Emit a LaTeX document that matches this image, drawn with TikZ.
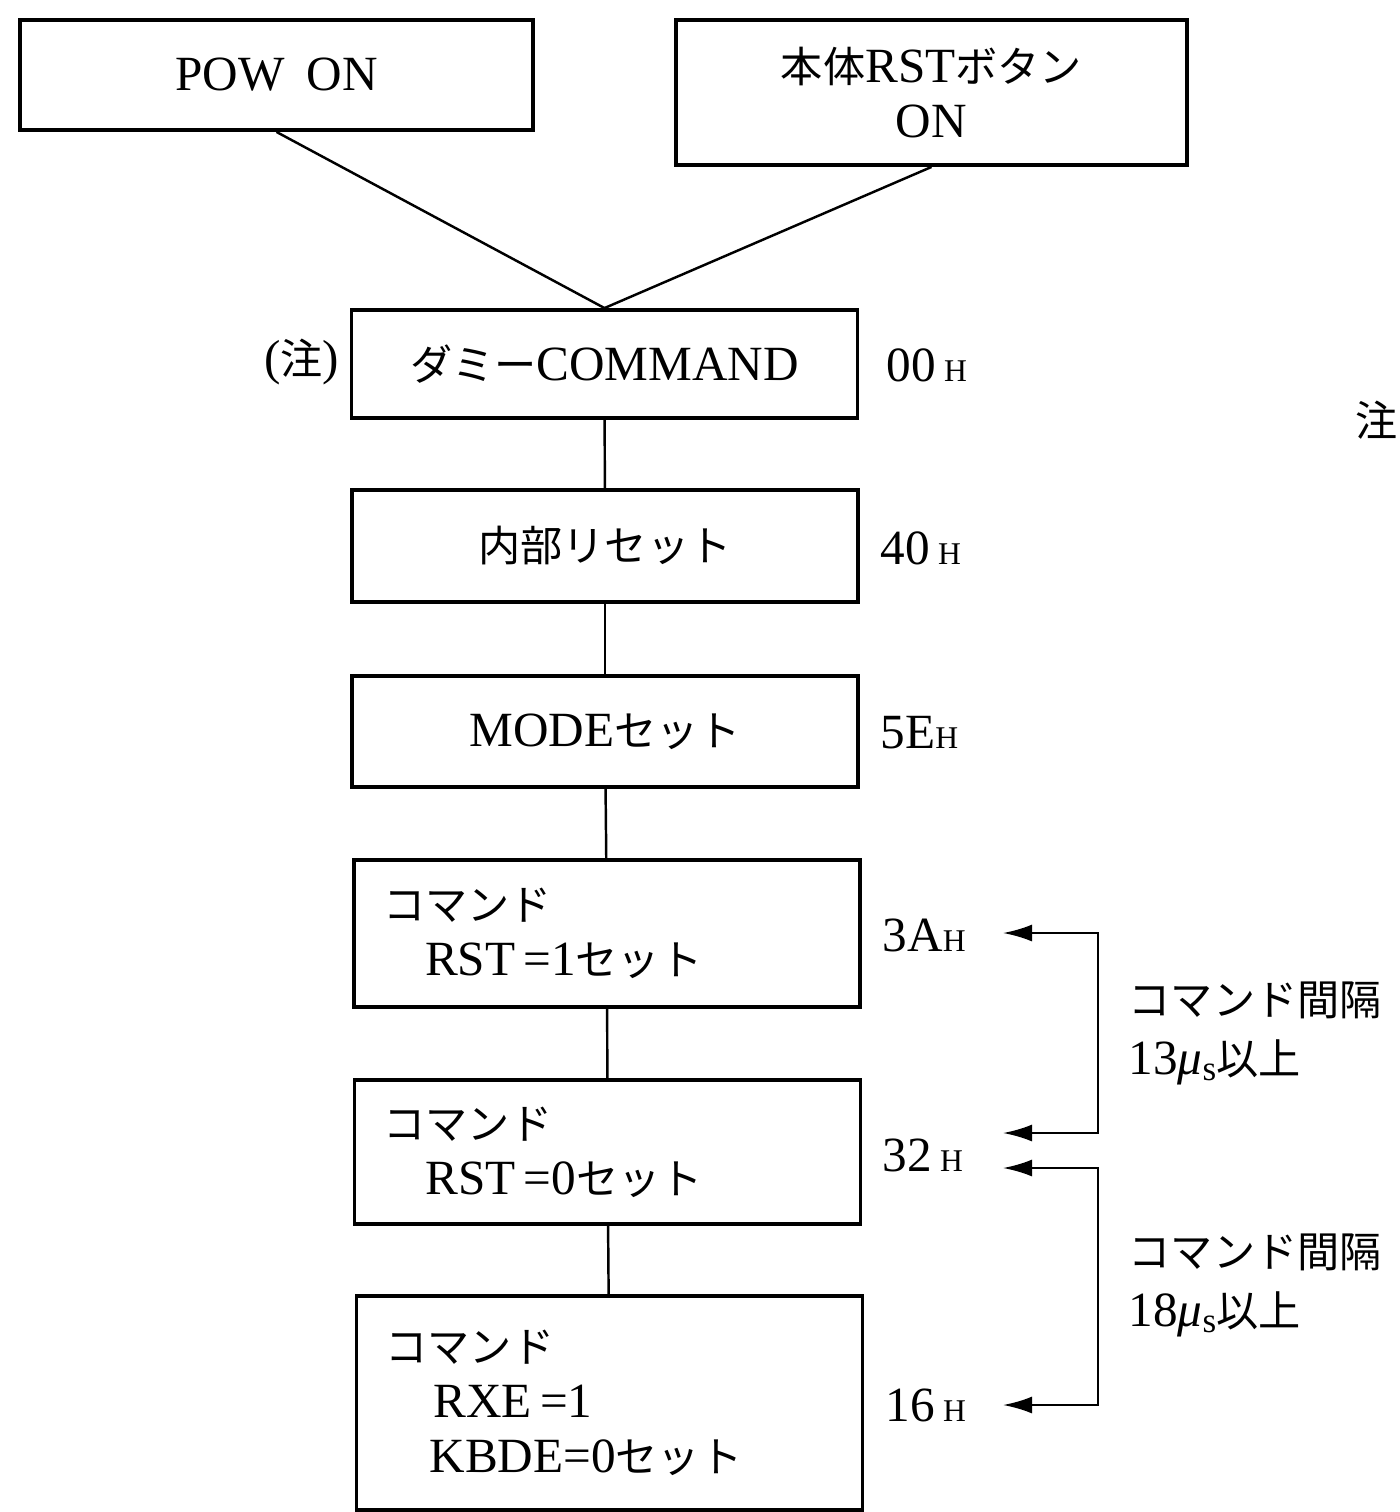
\documentclass[tikz,border=0pt]{standalone}
\usepackage{fontspec}
\setmainfont{Liberation Serif}
\newfontfamily\jpfont{Noto Sans CJK JP}
\usetikzlibrary{arrows.meta}
\newcommand{\jp}[1]{{\jpfont\fontsize{12}{15.6}\selectfont #1}}
\newcommand{\hx}[2][\,]{#2#1{\fontsize{9}{10}\selectfont H}}
\newcommand{\usec}{{\itshape μ}\raisebox{-0.3ex}{\fontsize{10}{10}\selectfont s}}

\begin{document}
\begin{tikzpicture}[
    every node/.style={font=\fontsize{14}{15.6}\selectfont, inner sep=0pt},
    stepbox/.style={draw, line width=1.1pt, inner xsep=0.29cm,
                    text width=4.48cm, align=center},
    cmdbox/.style={stepbox, align=left},
    link/.style={line width=0.7pt},
    gap/.style={line width=0.7pt,
                {Latex[length=2.9mm,width=1.7mm]}-{Latex[length=2.9mm,width=1.7mm]}}]

    \useasboundingbox (0,0) rectangle (13.99,-15.12);

    % === Start events ===
    \node[stepbox, text width=4.55cm, minimum height=1.10cm] (pow) at (2.765,-0.75)
      {POW\hspace{0.45em}ON};
    \node[stepbox, text width=4.53cm, minimum height=1.45cm] (rstbtn) at (9.315,-0.925)
      {\jp{本体}RST\jp{ボタン}\\ON};

    % === Reset sequence ===
    \node[stepbox, minimum height=1.08cm] (dummy) at (6.045,-3.64)
      {\jp{ダミー}COMMAND};
    \node[stepbox, minimum height=1.12cm] (inreset) at (6.05,-5.46)
      {\jp{内部リセット}};
    \node[stepbox, minimum height=1.11cm] (mode) at (6.05,-7.315)
      {MODE\jp{セット}};
    \node[cmdbox, minimum height=1.47cm] (cmdA) at (6.07,-9.335)
      {\jp{コマンド}\\\hspace*{0.42cm}RST\,=1\jp{セット}};
    \node[cmdbox, minimum height=1.44cm] (cmdB) at (6.075,-11.52)
      {\jp{コマンド}\\\hspace*{0.42cm}RST\,=0\jp{セット}};
    \node[cmdbox, minimum height=2.14cm] (cmdC) at (6.095,-14.03)
      {\jp{コマンド}\\\hspace*{0.48cm}RXE\,=1\\\hspace*{0.44cm}KBDE=0\jp{セット}};

    % --- connectors ---
    \draw[link] (pow.south) -- (dummy.north);
    \draw[link] (rstbtn.south) -- (dummy.north);
    \draw[link] (dummy) -- (inreset);
    \draw[link] (inreset) -- (mode);
    \draw[link] (mode) -- (cmdA);
    \draw[link] (cmdA) -- (cmdB);
    \draw[link] (cmdB) -- (cmdC);

    % === Notes and command codes ===
    \node[anchor=east] (note) at (3.40,-3.62) {(\jp{注})};
    \node[anchor=west] (noteR) at (13.55,-4.20) {\jp{注}};
    \node[anchor=west] (h00) at (8.86,-3.65) {\hx{00}};
    \node[anchor=west] (h40) at (8.80,-5.48) {\hx{40}};
    \node[anchor=west] (h5E) at (8.80,-7.33) {\hx[]{5E}};
    \node[anchor=west] (h3A) at (8.82,-9.35) {\hx[]{3A}};
    \node[anchor=west] (h32) at (8.82,-11.55) {\hx{32}};
    \node[anchor=west] (h16) at (8.85,-14.05) {\hx{16}};

    % === Command intervals ===
    \coordinate (tA) at (10.03,-9.33);
    \coordinate (tB1) at (10.03,-11.33);
    \coordinate (tB2) at (10.03,-11.68);
    \coordinate (tC) at (10.03,-14.05);
    \draw[gap] (tA) -- ++(0.95,0) |- (tB1);
    \draw[gap] (tB2) -- ++(0.95,0) |- (tC);
    \node[anchor=west, align=left, font=\fontsize{14}{16.8}\selectfont] (ivA) at (11.28,-10.33)
      {\jp{コマンド間隔}\\13\usec\jp{以上}};
    \node[anchor=west, align=left, font=\fontsize{14}{16.8}\selectfont] (ivB) at (11.28,-12.85)
      {\jp{コマンド間隔}\\18\usec\jp{以上}};
\end{tikzpicture}
\end{document}
